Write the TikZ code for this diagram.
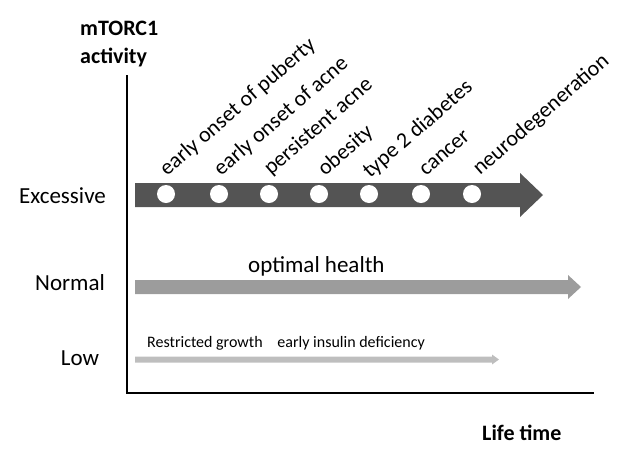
\documentclass[tikz,border=0pt]{standalone}
\usepackage{fontspec}
\setmainfont{Carlito}
\definecolor{darkarrow}{HTML}{545454}
\definecolor{midarrow}{HTML}{9C9C9C}
\definecolor{lowarrow}{HTML}{BEBEBE}
\begin{document}
\begin{tikzpicture}[x=1pt,y=-1pt,
  lbl/.style={inner sep=0pt,font=\fontsize{23}{27}\selectfont},
  boldlbl/.style={inner sep=0pt,font=\fontsize{22}{26}\selectfont\bfseries},
  rot/.style={inner sep=0pt,anchor=base west,rotate=41,font=\fontsize{22}{26}\selectfont},
  small/.style={inner sep=0pt,anchor=base west,font=\fontsize{16}{19}\selectfont},
  dot/.style={circle,fill=white,inner sep=0pt,minimum size=18pt}]
\useasboundingbox (0,0) rectangle (620,461);
% axes
\coordinate (top) at (127,75);
\coordinate (origin) at (127,393);
\coordinate (right) at (594,393);
\draw[line width=2.4pt] (top) -- (origin) -- (right);
% axis titles
\node[boldlbl,anchor=base west] (t1) at (80,35) {mTORC1};
\node[boldlbl,anchor=base west] (t2) at (80,63) {activity};
\node[boldlbl,anchor=base west] (lt) at (482,440) {Life time};
% level labels
\node[lbl,anchor=base] (exc) at (62.5,203) {Excessive};
\node[lbl,anchor=base] (nor) at (70,290) {Normal};
\node[lbl,anchor=base] (low) at (80,365) {Low};
% excessive arrow
\fill[darkarrow] (135,183) -- (520,183) -- (520,173) -- (543,195) -- (520,217) -- (520,207) -- (135,207) -- cycle;
% normal arrow
\fill[midarrow] (135,280) -- (568,280) -- (568,275) -- (581,287) -- (568,299) -- (568,294) -- (135,294) -- cycle;
% low arrow
\fill[lowarrow] (135,356.5) -- (492,356.5) -- (492,354.5) -- (499,359.5) -- (492,364.5) -- (492,362.5) -- (135,362.5) -- cycle;
% circles
\foreach \x/\n in {166/c1,219/c2,269/c3,319/c4,369/c5,421/c6,472/c7}
  \node[dot] (\n) at (\x,194) {};
% rotated labels
\node[rot] (r1) at (167,177) {early onset of puberty};
\node[rot] (r2) at (221,177) {early onset of acne};
\node[rot] (r3) at (271,176) {persistent acne};
\node[rot] (r4) at (325,177) {obesity};
\node[rot] (r5) at (370,179) {type 2 diabetes};
\node[rot] (r6) at (426,177) {cancer};
\node[rot] (r7) at (480,176) {neurodegeneration};
% other texts
\node[lbl,anchor=base west] (opt) at (248,272) {optimal health};
\node[small] (rg) at (147,347) {Restricted growth\hspace{0.7em} early insulin deficiency};
\end{tikzpicture}
\end{document}
